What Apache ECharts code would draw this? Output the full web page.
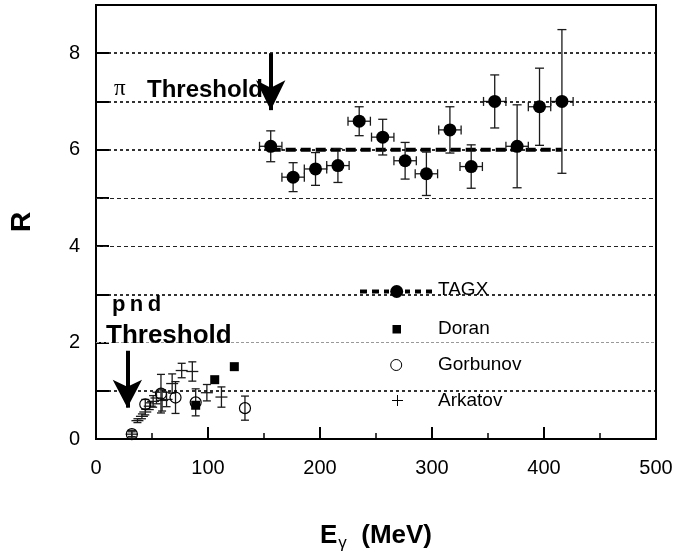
<!DOCTYPE html>
<html>
<head>
<meta charset="utf-8">
<title>R vs E gamma</title>
<script src="https://cdn.jsdelivr.net/npm/echarts@6/dist/echarts.min.js"></script>
<style>
  html, body { margin: 0; padding: 0; background: #fff; }
  #chart { width: 677px; height: 557px; }
</style>
</head>
<body>
<div id="chart"></div>
<script>
// TAGX points (E in MeV, R, error on R), energy bins are +-10 MeV
const tagxE = [156, 176, 196, 216, 235, 256, 276, 295, 316, 335, 356, 376, 396, 416];
const tagxR = [6.07, 5.43, 5.60, 5.67, 6.59, 6.26, 5.77, 5.50, 6.41, 5.65, 7.00, 6.07, 6.89, 7.00];
const tagxErr = [0.32, 0.30, 0.34, 0.35, 0.30, 0.37, 0.38, 0.45, 0.48, 0.45, 0.55, 0.86, 0.80, 1.49];
const tagxBin = 10;
// TAGX average line
const fitE = [156, 416];
const fitR = [6.0, 6.0];

// Doran
const doranE = [89, 106, 123.5];
const doranR = [0.70, 1.23, 1.50];

// Gorbunov
const gorbE = [32, 44, 58, 71, 89, 133];
const gorbR = [0.10, 0.72, 0.94, 0.86, 0.76, 0.64];
const gorbErr = [0.05, 0.10, 0.40, 0.33, 0.28, 0.25];

// Arkatov
const arkE = [32, 37, 41, 44, 48, 51, 54, 59, 63, 68, 76.5, 86, 99, 112];
const arkR = [0.10, 0.38, 0.47, 0.56, 0.68, 0.78, 0.85, 0.80, 0.82, 1.15, 1.42, 1.40, 0.96, 0.87];
const arkErr = [0.08, 0.04, 0.05, 0.06, 0.07, 0.12, 0.12, 0.22, 0.15, 0.20, 0.15, 0.20, 0.17, 0.21];

// horizontal reference lines
const gridR = [1, 2, 3, 4, 5, 6, 7, 8];

// thresholds: energy, arrow top, arrow tip
const piThr = [156, 8.0, 6.52];
const pndThr = [28, 1.83, 0.37];

const legendNames = ['TAGX', 'Doran', 'Gorbunov', 'Arkatov'];

const chart = echarts.init(document.getElementById('chart'));

function zip() {
  const arrs = Array.from(arguments);
  return arrs[0].map((_, i) => arrs.map(a => (Array.isArray(a) ? a[i] : a)));
}

// error bars: value = [E, R, dR, dE]
function errRender(cap, crossHalf) {
  return function (params, api) {
    const e = api.value(0), r = api.value(1), dr = api.value(2), de = api.value(3);
    const c = api.coord([e, r]);
    const hi = api.coord([e, r + dr]);
    const lo = api.coord([e, r - dr]);
    const st = { stroke: '#1a1a1a', lineWidth: 1.3 };
    const kids = [
      { type: 'line', shape: { x1: c[0], y1: hi[1], x2: c[0], y2: lo[1] }, style: st },
      { type: 'line', shape: { x1: c[0] - cap, y1: hi[1], x2: c[0] + cap, y2: hi[1] }, style: st },
      { type: 'line', shape: { x1: c[0] - cap, y1: lo[1], x2: c[0] + cap, y2: lo[1] }, style: st }
    ];
    if (de) {
      const l = api.coord([e - de, r]);
      const rr = api.coord([e + de, r]);
      kids.push(
        { type: 'line', shape: { x1: l[0], y1: c[1], x2: rr[0], y2: c[1] }, style: st },
        { type: 'line', shape: { x1: l[0], y1: c[1] - cap, x2: l[0], y2: c[1] + cap }, style: st },
        { type: 'line', shape: { x1: rr[0], y1: c[1] - cap, x2: rr[0], y2: c[1] + cap }, style: st }
      );
    }
    if (crossHalf) {
      kids.push({ type: 'line', shape: { x1: c[0] - crossHalf, y1: c[1], x2: c[0] + crossHalf, y2: c[1] }, style: st });
    }
    return { type: 'group', children: kids };
  };
}

const gridStyles = {
  1: { color: '#000', width: 1.6, type: [3, 3] },
  2: { color: '#999', width: 1, type: [3, 2] },
  3: { color: '#000', width: 1.6, type: [3, 3] },
  4: { color: '#222', width: 1, type: [4, 3] },
  5: { color: '#222', width: 1, type: [4, 3] },
  6: { color: '#000', width: 1.6, type: [3, 3] },
  7: { color: '#000', width: 1.6, type: [3, 3] },
  8: { color: '#000', width: 1.6, type: [3, 3] }
};

function arrowLine(t, h) {
  // shift the end so the arrow tip lands on t[2]
  const end = t[2] + (h / 2) / 50.1;
  return [
    { coord: [t[0], t[1]], symbol: 'none' },
    { coord: [t[0], end], symbol: 'arrow', symbolSize: [22, h] }
  ];
}

const txt = (x, y, text, size, bold, extra) => ({
  type: 'text', x: x, y: y, z: 50,
  style: Object.assign({
    text: text, fill: '#000',
    font: (bold ? 'bold ' : '') + size + 'px "Liberation Sans", Arial, sans-serif',
    verticalAlign: 'middle', align: 'left'
  }, extra || {})
});

// legend sample for TAGX: dashes + dot
const legendDashes = [];
[[360, 367], [372, 379], [384, 389], [405, 410], [415, 421], [426, 432]].forEach(d => {
  legendDashes.push({ type: 'line', z: 50, shape: { x1: d[0], y1: 291.5, x2: d[1], y2: 291.5 }, style: { stroke: '#000', lineWidth: 4 } });
});

chart.setOption({
  animation: false,
  backgroundColor: '#fff',
  grid: { left: 96, right: 21, top: 5, bottom: 102, show: true, borderColor: '#000', borderWidth: 2 },
  xAxis: {
    type: 'value', min: 0, max: 500, interval: 100,
    name: '{b|E}{sub|γ}{b|  (MeV)}',
    nameLocation: 'middle', nameGap: 80,
    nameTextStyle: {
      rich: {
        b: { fontSize: 26, fontWeight: 'bold', fontFamily: 'Liberation Sans', color: '#000' },
        sub: { fontSize: 17, fontFamily: 'Liberation Sans', color: '#000', padding: [16, 0, 0, 1] }
      }
    },
    axisLine: { lineStyle: { color: '#000', width: 2 } },
    axisTick: { inside: true, length: 12, lineStyle: { color: '#000', width: 2 } },
    minorTick: { show: true, splitNumber: 2, length: 6, lineStyle: { color: '#000', width: 1.5 } },
    axisLabel: { color: '#000', fontSize: 20, fontFamily: 'Liberation Sans', margin: 19 },
    splitLine: { show: false }
  },
  yAxis: {
    type: 'value', min: 0, max: 9, interval: 1,
    name: 'R', nameLocation: 'middle', nameGap: 60, nameRotate: 90,
    nameTextStyle: { fontSize: 28, fontWeight: 'bold', fontFamily: 'Liberation Sans', color: '#000' },
    axisLine: { lineStyle: { color: '#000', width: 2 } },
    axisTick: { inside: true, length: 13, lineStyle: { color: '#000', width: 2 } },
    axisLabel: {
      color: '#000', fontSize: 20, fontFamily: 'Liberation Sans', margin: 16,
      formatter: v => (v % 2 === 0 && v < 9 ? String(v) : '')
    },
    splitLine: { show: false }
  },
  series: [
    {
      name: 'guides', type: 'line', data: [], silent: true, z: 1,
      markLine: {
        silent: true, symbol: 'none', label: { show: false }, animation: false,
        data: gridR.map(v => ({ yAxis: v, lineStyle: gridStyles[v] }))
      }
    },
    {
      name: 'arrows', type: 'line', data: [], silent: true, z: 6,
      markLine: {
        silent: true, label: { show: false }, animation: false,
        lineStyle: { color: '#000', width: 4, type: 'solid', opacity: 1 },
        itemStyle: { color: '#000' },
        data: [arrowLine(piThr, 30), arrowLine(pndThr, 28)]
      }
    },
    {
      name: 'TAGX fit', type: 'line', data: zip(fitE, fitR), symbol: 'none', z: 3,
      lineStyle: { color: '#000', width: 4, type: [10, 5] }
    },
    {
      name: 'TAGX err', type: 'custom', z: 4,
      renderItem: errRender(4.5, 0),
      data: zip(tagxE, tagxR, tagxErr, tagxBin),
      encode: { x: 0, y: 1 }
    },
    {
      name: 'TAGX', type: 'scatter', z: 5, symbol: 'circle', symbolSize: 13,
      itemStyle: { color: '#000', opacity: 1 },
      data: zip(tagxE, tagxR)
    },
    {
      name: 'Gorbunov err', type: 'custom', z: 4,
      renderItem: errRender(4, 0),
      data: zip(gorbE, gorbR, gorbErr, 0),
      encode: { x: 0, y: 1 }
    },
    {
      name: 'Arkatov', type: 'custom', z: 4,
      renderItem: errRender(4, 6),
      data: zip(arkE, arkR, arkErr, 0),
      encode: { x: 0, y: 1 }
    },
    {
      name: 'Doran', type: 'scatter', z: 5, symbol: 'rect', symbolSize: 9,
      itemStyle: { color: '#000', opacity: 1 },
      data: zip(doranE, doranR)
    },
    {
      name: 'Gorbunov', type: 'scatter', z: 6, symbol: 'circle', symbolSize: 11,
      itemStyle: { color: 'rgba(255,255,255,0)', borderColor: '#000', borderWidth: 1.2, opacity: 1 },
      data: zip(gorbE, gorbR)
    }
  ],
  graphic: [
    txt(114, 89, 'π', 22, false, { font: '23px "Liberation Serif", "DejaVu Serif", serif' }),
    txt(147, 90, 'Threshold', 24, true),
    txt(112, 305, 'p\u2009n\u2009d', 22, true),
    txt(106, 336, 'Threshold', 26, true),
    // legend
    ...legendDashes,
    { type: 'circle', z: 50, shape: { cx: 396.7, cy: 291.5, r: 6.5 }, style: { fill: '#000' } },
    txt(438, 290, legendNames[0], 19, false),
    { type: 'rect', z: 50, shape: { x: 392.5, y: 325, width: 8.5, height: 8.5 }, style: { fill: '#000' } },
    txt(438, 328.5, legendNames[1], 19, false),
    { type: 'circle', z: 50, shape: { cx: 396.2, cy: 365, r: 5.5 }, style: { fill: '#fff', stroke: '#000', lineWidth: 1 } },
    txt(438, 365, legendNames[2], 19, false),
    { type: 'line', z: 50, shape: { x1: 392, y1: 400.5, x2: 403, y2: 400.5 }, style: { stroke: '#000', lineWidth: 1 } },
    { type: 'line', z: 50, shape: { x1: 397.5, y1: 395, x2: 397.5, y2: 406 }, style: { stroke: '#000', lineWidth: 1 } },
    txt(438, 401, legendNames[3], 19, false)
  ]
});
</script>
</body>
</html>
